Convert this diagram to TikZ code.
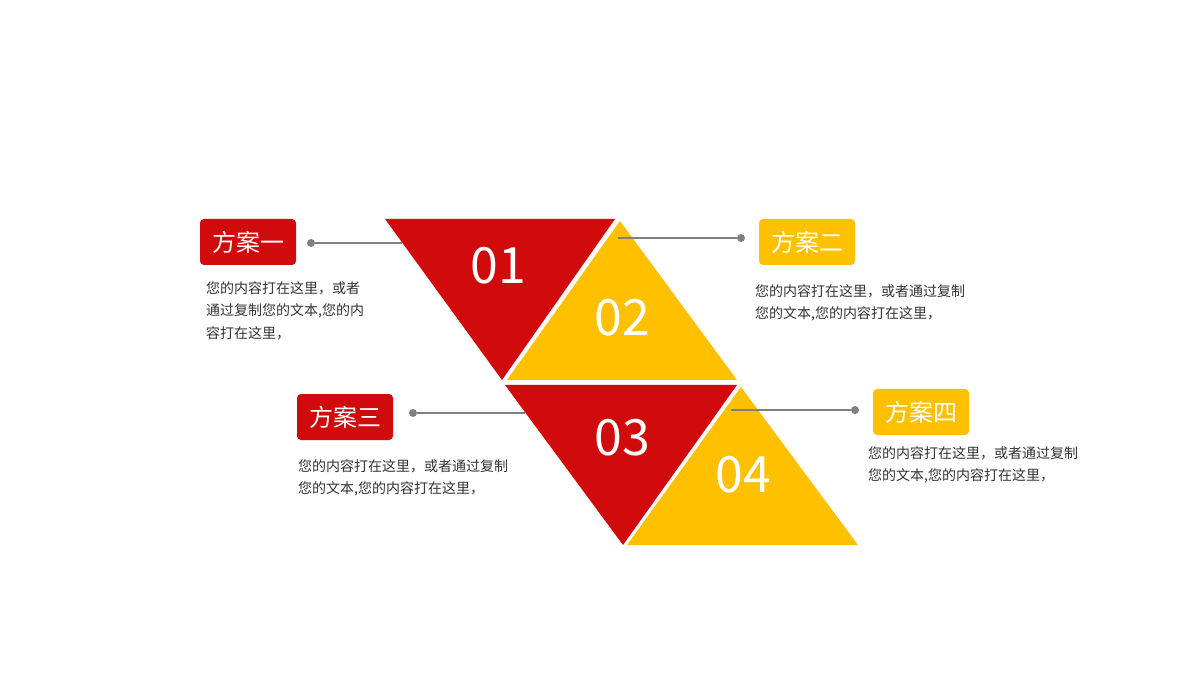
\documentclass[tikz,border=0pt]{standalone}
\usepackage{fontspec}
\setmainfont{Noto Sans CJK SC}
\usetikzlibrary{positioning}
\definecolor{fangred}{RGB}{209,11,11}
\definecolor{fangyellow}{RGB}{255,192,0}
\definecolor{leadgray}{RGB}{128,128,128}
\definecolor{desctext}{RGB}{51,51,51}

\begin{document}
\begin{tikzpicture}[x=1pt,y=-1pt,
	tagbox/.style={rounded corners=4pt,minimum width=96pt,minimum height=46pt,inner sep=0pt,text=white,font=\fontsize{24}{28}\selectfont},
	desc/.style={align=left,anchor=north west,inner sep=0pt,text=desctext,font=\fontsize{14}{22.5}\selectfont},
	num/.style={text=white,inner sep=0pt,font=\fontsize{50}{50}\selectfont},
	dot/.style={circle,fill=leadgray,inner sep=0pt,minimum size=8pt},
	lead/.style={leadgray,line width=1.5pt}]
				\useasboundingbox[fill=white] (0,0) rectangle (1200,676);
				% triangles
				\fill[fangred] (385,219) -- (615,219) -- (502,380) -- cycle;
				\fill[fangyellow] (620,221) -- (507,380) -- (737,380) -- cycle;
				\fill[fangred] (505,385) -- (737,385) -- (623,545) -- cycle;
				\fill[fangyellow] (741,387) -- (627,545) -- (858,545) -- cycle;
				\node[num] (n1) at (498,266) {01};
				\node[num] (n2) at (622,318) {02};
				\node[num] (n3) at (622,438) {03};
				\node[num] (n4) at (743,475) {04};
				% labels
				\node[tagbox,fill=fangred] (t1) at (248,242) {方案一};
				\node[tagbox,fill=fangyellow] (t2) at (807,242) {方案二};
				\node[tagbox,fill=fangred] (t3) at (345,417) {方案三};
				\node[tagbox,fill=fangyellow] (t4) at (921,412) {方案四};
				\node[desc] (s1) at (206,281) {您的内容打在这里，或者\\通过复制您的文本,您的内\\容打在这里，};
				\node[desc] (s2) at (755,284) {您的内容打在这里，或者通过复制\\您的文本,您的内容打在这里，};
				\node[desc] (s3) at (298,459) {您的内容打在这里，或者通过复制\\您的文本,您的内容打在这里，};
				\node[desc] (s4) at (868,446) {您的内容打在这里，或者通过复制\\您的文本,您的内容打在这里，};
				% leads
				\node[dot] (d1) at (311,243) {};
				\coordinate (e1) at (402,243);
				\draw[lead] (d1) -- (e1);
				\node[dot] (d2) at (741,238) {};
				\coordinate (e2) at (618,238);
				\draw[lead] (e2) -- (d2);
				\node[dot] (d3) at (413,413) {};
				\coordinate (e3) at (525,413);
				\draw[lead] (d3) -- (e3);
				\node[dot] (d4) at (855,410) {};
				\coordinate (e4) at (731,410);
				\draw[lead] (e4) -- (d4);
			\end{tikzpicture}
\end{document}
